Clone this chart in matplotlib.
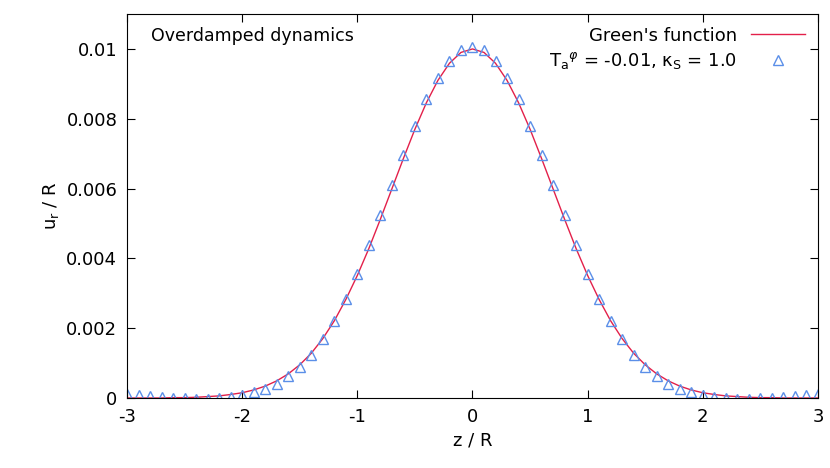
import matplotlib
matplotlib.use("Agg")
import matplotlib.pyplot as plt
import numpy as np

plt.rcParams["font.family"] = "DejaVu Sans"
plt.rcParams["mathtext.fontset"] = "dejavusans"
plt.rcParams["axes.unicode_minus"] = False

# half profiles from z=0 to z=3 in steps of 0.1 (mirrored for negative z)
z_half = [round(0.1 * i, 1) for i in range(31)]
green_half = [0.01000, 0.00990, 0.00959, 0.00910, 0.00846, 0.00770, 0.00686, 0.00599,
              0.00512, 0.00428, 0.00351, 0.00282, 0.00221, 0.00170, 0.00128, 0.00095,
              0.00069, 0.00049, 0.00034, 0.00023, 0.00015, 0.00010, 0.00006, 0.00004,
              0.00002, 0.00001, 0.00001, 0.0, 0.0, 0.0, 0.0]
sim_half = [0.01006, 0.00996, 0.00966, 0.00918, 0.00858, 0.00780, 0.00697, 0.00609,
            0.00523, 0.00438, 0.00356, 0.00284, 0.00220, 0.00168, 0.00122, 0.00088,
            0.00062, 0.00040, 0.00026, 0.00016, 0.00009, 0.00004, 0.00000, -0.00002,
            -0.00002, -0.00001, 0.00000, 0.00003, 0.00005, 0.00008, 0.00010]

z = [-v for v in z_half[:0:-1]] + z_half
green = green_half[:0:-1] + green_half
sim = sim_half[:0:-1] + sim_half

fig = plt.figure(figsize=(8.3, 4.68), dpi=100)
ax = fig.add_axes([0.153, 0.1496, 0.8325, 0.8204])
ax.plot(z, green, color="#e3204a", lw=1.0, label="Green's function")
ax.plot(z, sim, ls="none", marker="^", ms=7, mfc="none", mec="#5b8fe8", mew=1.0,
        label=r"T$_\mathrm{a}$$^\varphi$ = -0.01, κ$_\mathrm{S}$ = 1.0")
ax.set_xlim(-3, 3)
ax.set_ylim(0, 0.011)
ax.set_xticks([-3, -2, -1, 0, 1, 2, 3])
ax.set_yticks([0, 0.002, 0.004, 0.006, 0.008, 0.01])
ax.set_yticklabels(["0", "0.002", "0.004", "0.006", "0.008", "0.01"])
ax.tick_params(direction="in", top=True, right=True, labelsize=13, length=6, pad=7)
ax.set_xlabel("z / R", fontsize=13)
ax.set_ylabel(r"u$_\mathrm{r}$ / R", fontsize=13)
ax.text(0.035, 0.965, "Overdamped dynamics", transform=ax.transAxes, fontsize=12.5, va="top")
ax.legend(loc="upper right", frameon=False, markerfirst=False, fontsize=13,
          handlelength=3, borderaxespad=0.3, labelspacing=0.3)
fig.savefig("out.png", dpi=100)
